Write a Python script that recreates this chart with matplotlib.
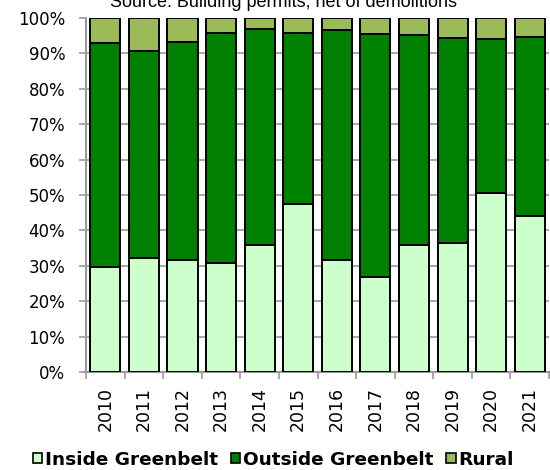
import numpy as np
import matplotlib
matplotlib.use("Agg")
import matplotlib.pyplot as plt
from matplotlib.patches import Patch
from matplotlib.ticker import FuncFormatter, MultipleLocator

years = ["2010", "2011", "2012", "2013", "2014", "2015",
         "2016", "2017", "2018", "2019", "2020", "2021"]
# shares in percent
inside = [29.8, 32.1, 31.6, 30.8, 35.8, 47.5, 31.6, 26.7, 35.8, 36.5, 50.5, 44.2]
outside = [63.2, 58.5, 61.5, 64.9, 61.1, 48.2, 65.0, 68.9, 59.3, 57.9, 43.5, 50.3]
rural = [7.0, 9.4, 6.9, 4.3, 3.1, 4.3, 3.4, 4.4, 4.9, 5.6, 6.0, 5.5]

series_names = ["Inside Greenbelt", "Outside Greenbelt", "Rural"]
colors = ["#CCFFCC", "#008000", "#9BBB59"]

fig = plt.figure(figsize=(5.5, 4.7), dpi=100)
ax = fig.add_axes([0.1564, 0.2085, 0.8418, 0.7532])

x = np.arange(len(years))
bottom = np.zeros(len(years))
for vals, col in zip([inside, outside, rural], colors):
    ax.bar(x, vals, bottom=bottom, width=0.78, color=col,
           edgecolor="black", linewidth=1.4, zorder=3)
    bottom += np.array(vals)

ax.set_xlim(-0.5, len(years) - 0.5)
ax.set_ylim(0, 100)
ax.yaxis.set_major_locator(MultipleLocator(10))
ax.yaxis.set_major_formatter(FuncFormatter(lambda v, p: f"{v:.0f}%"))

# horizontal grid lines 10..90
for g in range(10, 100, 10):
    ax.axhline(g, color="#999999", linewidth=1.2, zorder=1)

ax.set_xticks(x)
ax.set_xticklabels(years, rotation=90, fontsize=12.5, family="DejaVu Sans")
ax.set_xticks(np.arange(-0.5, len(years)), minor=True)
ax.tick_params(axis="x", which="major", length=0, pad=11)
ax.tick_params(axis="x", which="minor", length=5, width=1.2, color="#999999")
ax.tick_params(axis="y", length=5, width=1.2, color="#999999", pad=10,
               labelsize=12)

for s in ["top", "right"]:
    ax.spines[s].set_visible(False)
for s in ["left", "bottom"]:
    ax.spines[s].set_color("#999999")
    ax.spines[s].set_linewidth(1.5)

fig.text(0.515, 0.985, "Source: Building permits, net of demolitions",
         ha="center", va="baseline", fontsize=13, family="Liberation Sans")

handles = [Patch(facecolor=c, edgecolor="black", linewidth=1.2) for c in colors]
fig.legend(handles, series_names, loc="center", bbox_to_anchor=(0.497, 0.022),
           ncol=3, frameon=False, handlelength=0.5, handleheight=0.5,
           handletextpad=0.15, columnspacing=0.7,
           prop={"weight": "bold", "size": 13.3, "family": "DejaVu Sans"})

fig.savefig("out.png", dpi=100)
